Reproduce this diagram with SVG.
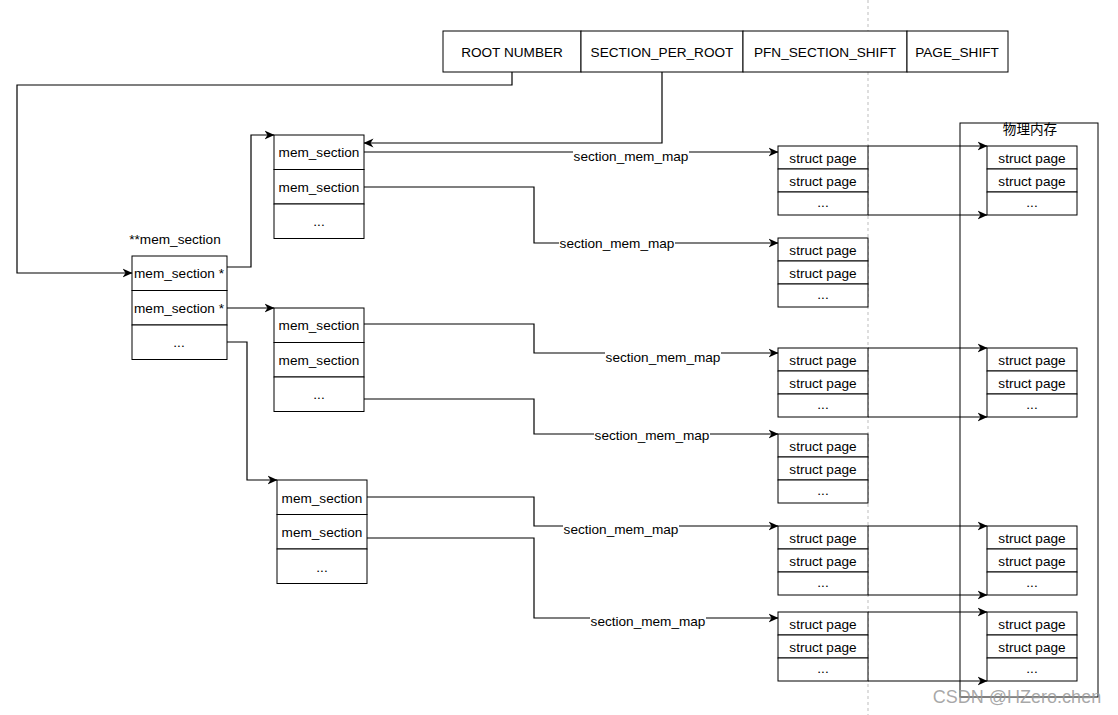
<svg xmlns="http://www.w3.org/2000/svg" width="1118" height="715" viewBox="0 0 1118 715">
<defs>
<marker id="arr" viewBox="0 0 10 10" refX="9.5" refY="5" markerWidth="10" markerHeight="10" markerUnits="userSpaceOnUse" orient="auto">
<path d="M0,0.5 L10,5 L0,9.5 L3,5 Z" fill="#000"/>
</marker>
<style>
.b{fill:#fff;stroke:#000;stroke-width:1}
.t{font-family:"Liberation Sans",Arial,sans-serif;font-size:13.6px;fill:#000;text-anchor:middle}
.c{fill:none;stroke:#000;stroke-width:1.2}
.a{marker-end:url(#arr)}
.lb{fill:#fff}
</style>
</defs>
<rect width="1118" height="715" fill="#fff"/>
<line x1="868" y1="0" x2="868" y2="715" stroke="#c8c8c8" stroke-width="1.2" stroke-dasharray="3 3"/>

<g id="physical-memory">
<rect x="960" y="123" width="138" height="574" fill="none" stroke="#000" stroke-width="1"/>
<text class="t" x="1030" y="134" style="font-family:'Liberation Sans','Noto Sans CJK SC',sans-serif">物理内存</text>
</g>

<g id="header">
<rect class="b" x="443" y="31" width="138" height="41"/>
<rect class="b" x="581" y="31" width="162" height="41"/>
<rect class="b" x="743" y="31" width="164" height="41"/>
<rect class="b" x="907" y="31" width="101" height="41"/>
<text class="t" x="512" y="57">ROOT NUMBER</text>
<text class="t" x="662" y="57">SECTION_PER_ROOT</text>
<text class="t" x="825" y="57">PFN_SECTION_SHIFT</text>
<text class="t" x="957" y="57">PAGE_SHIFT</text>
</g>

<g id="mem_section_ptr">
<text class="t" x="175" y="244">**mem_section</text>
<rect class="b" x="132" y="256" width="95" height="34.5"/>
<rect class="b" x="132" y="290.5" width="95" height="34.5"/>
<rect class="b" x="132" y="325" width="95" height="34.5"/>
<text class="t" x="179" y="278">mem_section *</text>
<text class="t" x="179" y="313">mem_section *</text>
<text class="t" x="179" y="347">...</text>
</g>

<g id="mem_section_a">
<rect class="b" x="274" y="135" width="90" height="34.5"/>
<rect class="b" x="274" y="169.5" width="90" height="34.5"/>
<rect class="b" x="274" y="204" width="90" height="34.5"/>
<text class="t" x="319" y="157">mem_section</text>
<text class="t" x="319" y="192">mem_section</text>
<text class="t" x="319" y="226">...</text>
</g>

<g id="mem_section_b">
<rect class="b" x="274" y="308" width="90" height="34.5"/>
<rect class="b" x="274" y="342.5" width="90" height="34.5"/>
<rect class="b" x="274" y="377" width="90" height="34.5"/>
<text class="t" x="319" y="330">mem_section</text>
<text class="t" x="319" y="365">mem_section</text>
<text class="t" x="319" y="399">...</text>
</g>

<g id="mem_section_c">
<rect class="b" x="277" y="480" width="90" height="34.5"/>
<rect class="b" x="277" y="514.5" width="90" height="34.5"/>
<rect class="b" x="277" y="549" width="90" height="34.5"/>
<text class="t" x="322" y="503">mem_section</text>
<text class="t" x="322" y="537">mem_section</text>
<text class="t" x="322" y="572">...</text>
</g>

<g id="struct_pages_left">
<g id="sp1">
<rect class="b" x="778" y="146" width="90" height="23"/><rect class="b" x="778" y="169" width="90" height="23"/><rect class="b" x="778" y="192" width="90" height="23"/>
<text class="t" x="823" y="162.5">struct page</text><text class="t" x="823" y="185.5">struct page</text><text class="t" x="823" y="207">...</text>
</g>
<g id="sp2">
<rect class="b" x="778" y="238" width="90" height="23"/><rect class="b" x="778" y="261" width="90" height="23"/><rect class="b" x="778" y="284" width="90" height="23"/>
<text class="t" x="823" y="254.5">struct page</text><text class="t" x="823" y="277.5">struct page</text><text class="t" x="823" y="299">...</text>
</g>
<g id="sp3">
<rect class="b" x="778" y="348" width="90" height="23"/><rect class="b" x="778" y="371" width="90" height="23"/><rect class="b" x="778" y="394" width="90" height="23"/>
<text class="t" x="823" y="364.5">struct page</text><text class="t" x="823" y="387.5">struct page</text><text class="t" x="823" y="409">...</text>
</g>
<g id="sp4">
<rect class="b" x="778" y="434" width="90" height="23"/><rect class="b" x="778" y="457" width="90" height="23"/><rect class="b" x="778" y="480" width="90" height="23"/>
<text class="t" x="823" y="450.5">struct page</text><text class="t" x="823" y="473.5">struct page</text><text class="t" x="823" y="495">...</text>
</g>
<g id="sp5">
<rect class="b" x="778" y="526" width="90" height="23"/><rect class="b" x="778" y="549" width="90" height="23"/><rect class="b" x="778" y="572" width="90" height="23"/>
<text class="t" x="823" y="542.5">struct page</text><text class="t" x="823" y="565.5">struct page</text><text class="t" x="823" y="587">...</text>
</g>
<g id="sp6">
<rect class="b" x="778" y="612" width="90" height="23"/><rect class="b" x="778" y="635" width="90" height="23"/><rect class="b" x="778" y="658" width="90" height="23"/>
<text class="t" x="823" y="628.5">struct page</text><text class="t" x="823" y="651.5">struct page</text><text class="t" x="823" y="673">...</text>
</g>
</g>

<g id="struct_pages_right">
<g id="pp1">
<rect class="b" x="987" y="146" width="90" height="23"/><rect class="b" x="987" y="169" width="90" height="23"/><rect class="b" x="987" y="192" width="90" height="23"/>
<text class="t" x="1032" y="162.5">struct page</text><text class="t" x="1032" y="185.5">struct page</text><text class="t" x="1032" y="207">...</text>
</g>
<g id="pp2">
<rect class="b" x="987" y="348" width="90" height="23"/><rect class="b" x="987" y="371" width="90" height="23"/><rect class="b" x="987" y="394" width="90" height="23"/>
<text class="t" x="1032" y="364.5">struct page</text><text class="t" x="1032" y="387.5">struct page</text><text class="t" x="1032" y="409">...</text>
</g>
<g id="pp3">
<rect class="b" x="987" y="526" width="90" height="23"/><rect class="b" x="987" y="549" width="90" height="23"/><rect class="b" x="987" y="572" width="90" height="23"/>
<text class="t" x="1032" y="542.5">struct page</text><text class="t" x="1032" y="565.5">struct page</text><text class="t" x="1032" y="587">...</text>
</g>
<g id="pp4">
<rect class="b" x="987" y="612" width="90" height="23"/><rect class="b" x="987" y="635" width="90" height="23"/><rect class="b" x="987" y="658" width="90" height="23"/>
<text class="t" x="1032" y="628.5">struct page</text><text class="t" x="1032" y="651.5">struct page</text><text class="t" x="1032" y="673">...</text>
</g>
</g>

<g id="connectors">
<path class="c a" d="M512,72 V85 H17 V273 H132"/>
<path class="c a" d="M662,72 V143 H364"/>
<path class="c a" d="M227,267 H251 V135 H274"/>
<path class="c a" d="M227,308 H274"/>
<path class="c a" d="M227,342 H247 V480 H277"/>

<path class="c a" d="M364,152 H778"/>
<path class="c a" d="M364,187 H534 V243 H778"/>
<path class="c a" d="M364,324 H534 V353 H778"/>
<path class="c a" d="M364,399 H534 V434 H778"/>
<path class="c a" d="M367,497 H534 V526 H778"/>
<path class="c a" d="M367,538 H534 V618 H778"/>

<path class="c a" d="M868,146 H987"/>
<path class="c a" d="M868,215 H987"/>
<path class="c a" d="M868,348 H987"/>
<path class="c a" d="M868,417 H987"/>
<path class="c a" d="M868,526 H987"/>
<path class="c a" d="M868,595 H987"/>
<path class="c a" d="M868,612 H987"/>
<path class="c a" d="M868,681 H987"/>

<g id="labels">
<rect class="lb" x="573" y="148" width="116" height="15"/>
<text class="t" x="631" y="161">section_mem_map</text>
<rect class="lb" x="559" y="236" width="116" height="15"/>
<text class="t" x="617" y="248">section_mem_map</text>
<rect class="lb" x="605" y="349" width="116" height="15"/>
<text class="t" x="663" y="362">section_mem_map</text>
<rect class="lb" x="594" y="427" width="116" height="15"/>
<text class="t" x="652" y="440">section_mem_map</text>
<rect class="lb" x="563" y="521" width="116" height="15"/>
<text class="t" x="621" y="534">section_mem_map</text>
<rect class="lb" x="590" y="613" width="116" height="15"/>
<text class="t" x="648" y="626">section_mem_map</text>
</g>
</g>

<text x="1017" y="703" style="font-family:'Liberation Sans',Arial,sans-serif;font-size:18px;fill:#999;fill-opacity:0.85;text-anchor:middle">CSDN @HZero.chen</text>
</svg>
